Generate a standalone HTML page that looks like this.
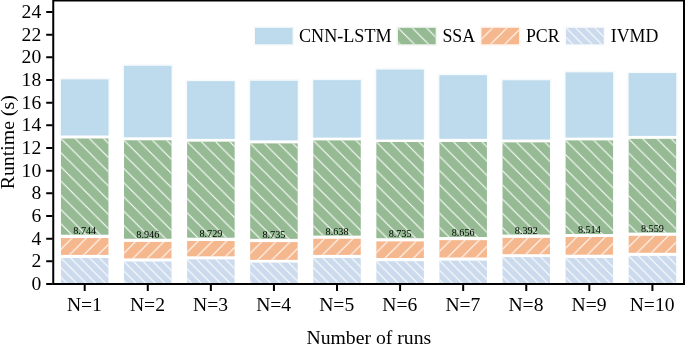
<!DOCTYPE html>
<html><head><meta charset="utf-8"><title>Runtime chart</title>
<style>
html,body{margin:0;padding:0;background:#fff;overflow:hidden;}
svg{display:block;}
text{font-family:"Liberation Serif","Times New Roman",serif;fill:#000;}
.t{font-size:19.6px;}
.xt{font-size:19.6px;}
.l{font-size:17.85px;}
.v{font-size:10.2px;}
</style></head><body>
<svg width="685" height="344" viewBox="0 0 685 344">
<defs>
<pattern id="hb" patternUnits="userSpaceOnUse" width="14.22" height="14.22"><path d="M-14.22,-14.22 L28.44,28.44 M0,-14.22 L28.44,14.22 M-14.22,0 L14.22,28.44" stroke="#fff" stroke-width="1.05" fill="none"/></pattern>
<pattern id="hf" patternUnits="userSpaceOnUse" width="14.22" height="14.22"><path d="M-14.22,28.44 L28.44,-14.22 M-14.22,14.22 L14.22,-14.22 M0,28.44 L28.44,0" stroke="#fff" stroke-width="1.05" fill="none"/></pattern>
<pattern id="hd" patternUnits="userSpaceOnUse" width="9.6" height="9.6"><path d="M-9.6,-9.6 L19.2,19.2 M0,-9.6 L19.2,9.6 M-9.6,0 L9.6,19.2" stroke="#fff" stroke-width="1.05" fill="none"/></pattern>
</defs>
<rect width="685" height="344" fill="#fff"/>
<g transform="translate(59.45,77.90)"><rect x="1.5" y="1.5" width="47.50" height="56.10" fill="#bddbec"/></g>
<path d="M60.95,135.50 V79.40 H108.45 V135.50" fill="none" stroke="#bddbec" stroke-opacity="0.13" stroke-width="3.4"/>
<g transform="translate(59.45,137.00)"><rect x="1.5" y="1.5" width="47.50" height="96.20" fill="#96bb94"/><rect x="1.5" y="1.5" width="47.50" height="96.20" fill="url(#hb)"/></g>
<g transform="translate(59.45,236.56)"><rect x="1.5" y="1.5" width="47.50" height="16.84" fill="#f5b78e"/><rect x="1.5" y="1.5" width="47.50" height="16.84" fill="url(#hf)"/></g>
<g transform="translate(59.45,256.50)"><rect x="1.5" y="1.5" width="47.50" height="26.00" fill="#cbdaec"/><rect x="1.5" y="1.5" width="47.50" height="26.00" fill="url(#hd)"/></g>
<text class="v" x="84.70" y="233.70" text-anchor="middle">8.744</text>
<g transform="translate(122.53,64.30)"><rect x="1.5" y="1.5" width="47.50" height="71.50" fill="#bddbec"/></g>
<path d="M124.03,137.30 V65.80 H171.53 V137.30" fill="none" stroke="#bddbec" stroke-opacity="0.13" stroke-width="3.4"/>
<g transform="translate(122.53,138.76)"><rect x="1.5" y="1.5" width="47.50" height="98.50" fill="#96bb94"/><rect x="1.5" y="1.5" width="47.50" height="98.50" fill="url(#hb)"/></g>
<g transform="translate(122.53,240.40)"><rect x="1.5" y="1.5" width="47.50" height="16.50" fill="#f5b78e"/><rect x="1.5" y="1.5" width="47.50" height="16.50" fill="url(#hf)"/></g>
<g transform="translate(122.53,260.00)"><rect x="1.5" y="1.5" width="47.50" height="22.50" fill="#cbdaec"/><rect x="1.5" y="1.5" width="47.50" height="22.50" fill="url(#hd)"/></g>
<text class="v" x="147.78" y="237.76" text-anchor="middle">8.946</text>
<g transform="translate(185.61,79.70)"><rect x="1.5" y="1.5" width="47.50" height="57.70" fill="#bddbec"/></g>
<path d="M187.11,138.90 V81.20 H234.61 V138.90" fill="none" stroke="#bddbec" stroke-opacity="0.13" stroke-width="3.4"/>
<g transform="translate(185.61,140.17)"><rect x="1.5" y="1.5" width="47.50" height="96.03" fill="#96bb94"/><rect x="1.5" y="1.5" width="47.50" height="96.03" fill="url(#hb)"/></g>
<g transform="translate(185.61,239.50)"><rect x="1.5" y="1.5" width="47.50" height="15.30" fill="#f5b78e"/><rect x="1.5" y="1.5" width="47.50" height="15.30" fill="url(#hf)"/></g>
<g transform="translate(185.61,257.90)"><rect x="1.5" y="1.5" width="47.50" height="24.60" fill="#cbdaec"/><rect x="1.5" y="1.5" width="47.50" height="24.60" fill="url(#hd)"/></g>
<text class="v" x="210.86" y="236.70" text-anchor="middle">8.729</text>
<g transform="translate(248.69,79.30)"><rect x="1.5" y="1.5" width="47.50" height="59.60" fill="#bddbec"/></g>
<path d="M250.19,140.40 V80.80 H297.69 V140.40" fill="none" stroke="#bddbec" stroke-opacity="0.13" stroke-width="3.4"/>
<g transform="translate(248.69,141.90)"><rect x="1.5" y="1.5" width="47.50" height="95.45" fill="#96bb94"/><rect x="1.5" y="1.5" width="47.50" height="95.45" fill="url(#hb)"/></g>
<g transform="translate(248.69,240.60)"><rect x="1.5" y="1.5" width="47.50" height="17.75" fill="#f5b78e"/><rect x="1.5" y="1.5" width="47.50" height="17.75" fill="url(#hf)"/></g>
<g transform="translate(248.69,261.10)"><rect x="1.5" y="1.5" width="47.50" height="21.40" fill="#cbdaec"/><rect x="1.5" y="1.5" width="47.50" height="21.40" fill="url(#hd)"/></g>
<text class="v" x="273.94" y="237.85" text-anchor="middle">8.735</text>
<g transform="translate(311.77,78.70)"><rect x="1.5" y="1.5" width="47.50" height="57.40" fill="#bddbec"/></g>
<path d="M313.27,137.60 V80.20 H360.77 V137.60" fill="none" stroke="#bddbec" stroke-opacity="0.13" stroke-width="3.4"/>
<g transform="translate(311.77,138.90)"><rect x="1.5" y="1.5" width="47.50" height="95.20" fill="#96bb94"/><rect x="1.5" y="1.5" width="47.50" height="95.20" fill="url(#hb)"/></g>
<g transform="translate(311.77,237.26)"><rect x="1.5" y="1.5" width="47.50" height="16.14" fill="#f5b78e"/><rect x="1.5" y="1.5" width="47.50" height="16.14" fill="url(#hf)"/></g>
<g transform="translate(311.77,256.50)"><rect x="1.5" y="1.5" width="47.50" height="26.00" fill="#cbdaec"/><rect x="1.5" y="1.5" width="47.50" height="26.00" fill="url(#hd)"/></g>
<text class="v" x="337.02" y="234.60" text-anchor="middle">8.638</text>
<g transform="translate(374.85,68.10)"><rect x="1.5" y="1.5" width="47.50" height="69.96" fill="#bddbec"/></g>
<path d="M376.35,139.56 V69.60 H423.85 V139.56" fill="none" stroke="#bddbec" stroke-opacity="0.13" stroke-width="3.4"/>
<g transform="translate(374.85,140.50)"><rect x="1.5" y="1.5" width="47.50" height="96.20" fill="#96bb94"/><rect x="1.5" y="1.5" width="47.50" height="96.20" fill="url(#hb)"/></g>
<g transform="translate(374.85,239.90)"><rect x="1.5" y="1.5" width="47.50" height="16.60" fill="#f5b78e"/><rect x="1.5" y="1.5" width="47.50" height="16.60" fill="url(#hf)"/></g>
<g transform="translate(374.85,259.70)"><rect x="1.5" y="1.5" width="47.50" height="22.80" fill="#cbdaec"/><rect x="1.5" y="1.5" width="47.50" height="22.80" fill="url(#hd)"/></g>
<text class="v" x="400.10" y="237.20" text-anchor="middle">8.735</text>
<g transform="translate(437.93,73.70)"><rect x="1.5" y="1.5" width="47.50" height="63.66" fill="#bddbec"/></g>
<path d="M439.43,138.86 V75.20 H486.93 V138.86" fill="none" stroke="#bddbec" stroke-opacity="0.13" stroke-width="3.4"/>
<g transform="translate(437.93,140.50)"><rect x="1.5" y="1.5" width="47.50" height="95.00" fill="#96bb94"/><rect x="1.5" y="1.5" width="47.50" height="95.00" fill="url(#hb)"/></g>
<g transform="translate(437.93,238.66)"><rect x="1.5" y="1.5" width="47.50" height="17.34" fill="#f5b78e"/><rect x="1.5" y="1.5" width="47.50" height="17.34" fill="url(#hf)"/></g>
<g transform="translate(437.93,259.16)"><rect x="1.5" y="1.5" width="47.50" height="23.34" fill="#cbdaec"/><rect x="1.5" y="1.5" width="47.50" height="23.34" fill="url(#hd)"/></g>
<text class="v" x="463.18" y="236.00" text-anchor="middle">8.656</text>
<g transform="translate(501.01,78.80)"><rect x="1.5" y="1.5" width="47.50" height="59.26" fill="#bddbec"/></g>
<path d="M502.51,139.56 V80.30 H550.01 V139.56" fill="none" stroke="#bddbec" stroke-opacity="0.13" stroke-width="3.4"/>
<g transform="translate(501.01,140.87)"><rect x="1.5" y="1.5" width="47.50" height="92.18" fill="#96bb94"/><rect x="1.5" y="1.5" width="47.50" height="92.18" fill="url(#hb)"/></g>
<g transform="translate(501.01,236.40)"><rect x="1.5" y="1.5" width="47.50" height="16.30" fill="#f5b78e"/><rect x="1.5" y="1.5" width="47.50" height="16.30" fill="url(#hf)"/></g>
<g transform="translate(501.01,255.65)"><rect x="1.5" y="1.5" width="47.50" height="26.85" fill="#cbdaec"/><rect x="1.5" y="1.5" width="47.50" height="26.85" fill="url(#hd)"/></g>
<text class="v" x="526.26" y="233.55" text-anchor="middle">8.392</text>
<g transform="translate(564.09,70.90)"><rect x="1.5" y="1.5" width="47.50" height="65.20" fill="#bddbec"/></g>
<path d="M565.59,137.60 V72.40 H613.09 V137.60" fill="none" stroke="#bddbec" stroke-opacity="0.13" stroke-width="3.4"/>
<g transform="translate(564.09,138.90)"><rect x="1.5" y="1.5" width="47.50" height="93.60" fill="#96bb94"/><rect x="1.5" y="1.5" width="47.50" height="93.60" fill="url(#hb)"/></g>
<g transform="translate(564.09,235.50)"><rect x="1.5" y="1.5" width="47.50" height="17.70" fill="#f5b78e"/><rect x="1.5" y="1.5" width="47.50" height="17.70" fill="url(#hf)"/></g>
<g transform="translate(564.09,256.50)"><rect x="1.5" y="1.5" width="47.50" height="26.00" fill="#cbdaec"/><rect x="1.5" y="1.5" width="47.50" height="26.00" fill="url(#hd)"/></g>
<text class="v" x="589.34" y="233.00" text-anchor="middle">8.514</text>
<g transform="translate(627.17,71.60)"><rect x="1.5" y="1.5" width="47.50" height="62.80" fill="#bddbec"/></g>
<path d="M628.67,135.90 V73.10 H676.17 V135.90" fill="none" stroke="#bddbec" stroke-opacity="0.13" stroke-width="3.4"/>
<g transform="translate(627.17,137.36)"><rect x="1.5" y="1.5" width="47.50" height="93.74" fill="#96bb94"/><rect x="1.5" y="1.5" width="47.50" height="93.74" fill="url(#hb)"/></g>
<g transform="translate(627.17,234.30)"><rect x="1.5" y="1.5" width="47.50" height="17.00" fill="#f5b78e"/><rect x="1.5" y="1.5" width="47.50" height="17.00" fill="url(#hf)"/></g>
<g transform="translate(627.17,254.40)"><rect x="1.5" y="1.5" width="47.50" height="28.10" fill="#cbdaec"/><rect x="1.5" y="1.5" width="47.50" height="28.10" fill="url(#hd)"/></g>
<text class="v" x="652.42" y="231.60" text-anchor="middle">8.559</text>
<g stroke="#000" stroke-width="2" fill="none" stroke-linecap="butt">
<path d="M53.25,-1 V284 M684,-1 V284 M52.25,0.5 H685 M52.25,284.1 H685"/>
<path d="M46.2,284.00 H52.5 M46.2,261.33 H52.5 M46.2,238.67 H52.5 M46.2,216.00 H52.5 M46.2,193.33 H52.5 M46.2,170.67 H52.5 M46.2,148.00 H52.5 M46.2,125.33 H52.5 M46.2,102.67 H52.5 M46.2,80.00 H52.5 M46.2,57.33 H52.5 M46.2,34.67 H52.5 M46.2,12.00 H52.5 M84.70,284.5 V290.9 M147.78,284.5 V290.9 M210.86,284.5 V290.9 M273.94,284.5 V290.9 M337.02,284.5 V290.9 M400.10,284.5 V290.9 M463.18,284.5 V290.9 M526.26,284.5 V290.9 M589.34,284.5 V290.9 M652.42,284.5 V290.9 "/>
</g>
<text class="t" x="41.2" y="290.00" text-anchor="end">0</text>
<text class="t" x="41.2" y="267.33" text-anchor="end">2</text>
<text class="t" x="41.2" y="244.67" text-anchor="end">4</text>
<text class="t" x="41.2" y="222.00" text-anchor="end">6</text>
<text class="t" x="41.2" y="199.33" text-anchor="end">8</text>
<text class="t" x="41.2" y="176.67" text-anchor="end">10</text>
<text class="t" x="41.2" y="154.00" text-anchor="end">12</text>
<text class="t" x="41.2" y="131.33" text-anchor="end">14</text>
<text class="t" x="41.2" y="108.67" text-anchor="end">16</text>
<text class="t" x="41.2" y="86.00" text-anchor="end">18</text>
<text class="t" x="41.2" y="63.33" text-anchor="end">20</text>
<text class="t" x="41.2" y="40.67" text-anchor="end">22</text>
<text class="t" x="41.2" y="18.00" text-anchor="end">24</text>
<text class="xt" x="84.40" y="310.55" text-anchor="middle">N=1</text>
<text class="xt" x="147.48" y="310.55" text-anchor="middle">N=2</text>
<text class="xt" x="210.56" y="310.55" text-anchor="middle">N=3</text>
<text class="xt" x="273.64" y="310.55" text-anchor="middle">N=4</text>
<text class="xt" x="336.72" y="310.55" text-anchor="middle">N=5</text>
<text class="xt" x="399.80" y="310.55" text-anchor="middle">N=6</text>
<text class="xt" x="462.88" y="310.55" text-anchor="middle">N=7</text>
<text class="xt" x="525.96" y="310.55" text-anchor="middle">N=8</text>
<text class="xt" x="589.04" y="310.55" text-anchor="middle">N=9</text>
<text class="xt" x="652.12" y="310.55" text-anchor="middle">N=10</text>
<text x="368.8" y="343.8" text-anchor="middle" style="font-size:19.72px">Number of runs</text>
<text transform="translate(14.2,142.2) rotate(-90)" text-anchor="middle" style="font-size:19.85px">Runtime (s)</text>
<g transform="translate(253.50,26.35)"><rect x="1.5" y="1.5" width="37.60" height="16.40" fill="#bddbec"/></g>
<rect x="255.00" y="27.85" width="37.6" height="16.4" fill="none" stroke="#bddbec" stroke-opacity="0.13" stroke-width="3"/>
<text x="299.00" y="42.35" style="font-size:18.12px">CNN-LSTM</text>
<g transform="translate(396.50,26.35)"><rect x="1.5" y="1.5" width="37.60" height="16.40" fill="#96bb94"/><rect x="1.5" y="1.5" width="37.60" height="16.40" fill="url(#hb)"/></g>
<rect x="398.00" y="27.85" width="37.6" height="16.4" fill="none" stroke="#96bb94" stroke-opacity="0.13" stroke-width="3"/>
<text x="442.40" y="42.35" style="font-size:17.85px">SSA</text>
<g transform="translate(480.00,26.35)"><rect x="1.5" y="1.5" width="37.60" height="16.40" fill="#f5b78e"/><rect x="1.5" y="1.5" width="37.60" height="16.40" fill="url(#hf)"/></g>
<rect x="481.50" y="27.85" width="37.6" height="16.4" fill="none" stroke="#f5b78e" stroke-opacity="0.13" stroke-width="3"/>
<text x="525.90" y="42.35" style="font-size:17.85px">PCR</text>
<g transform="translate(564.60,26.35)"><rect x="1.5" y="1.5" width="37.60" height="16.40" fill="#cbdaec"/><rect x="1.5" y="1.5" width="37.60" height="16.40" fill="url(#hd)"/></g>
<rect x="566.10" y="27.85" width="37.6" height="16.4" fill="none" stroke="#cbdaec" stroke-opacity="0.13" stroke-width="3"/>
<text x="610.70" y="42.35" style="font-size:17.85px">IVMD</text>
</svg>
</body></html>
